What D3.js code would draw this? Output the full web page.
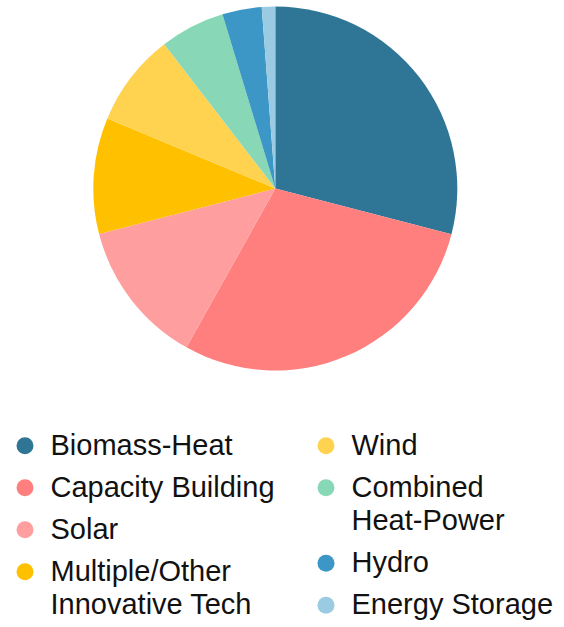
<!DOCTYPE html>
<html>
<head>
<meta charset="utf-8">
<script src="https://cdn.jsdelivr.net/npm/d3@7"></script>
<style>
  html, body { margin: 0; padding: 0; background: #fff; }
  svg { display: block; }
  text { font-family: "Liberation Sans", Arial, sans-serif; fill: #111; }
</style>
</head>
<body>
<div id="chart"></div>
<script>
const categories = ["Biomass-Heat", "Capacity Building", "Solar", "Multiple/Other Innovative Tech", "Wind", "Combined Heat-Power", "Hydro", "Energy Storage"];
const values = [29.04, 29.08, 12.86, 10.32, 8.26, 5.76, 3.50, 1.19];
const colors = ["#2F7596", "#FF7F7E", "#FF9E9E", "#FFC000", "#FFD24F", "#88D8B8", "#3C97C6", "#9BCBE3"];
const legendLines = [["Biomass-Heat"], ["Capacity Building"], ["Solar"], ["Multiple/Other", "Innovative Tech"], ["Wind"], ["Combined", "Heat-Power"], ["Hydro"], ["Energy Storage"]];
const legendColumn = [0, 0, 0, 0, 1, 1, 1, 1];

const W = 564, H = 627;
const cx = 275.3, cy = 188.5, R = 182;

const svg = d3.select("#chart").append("svg").attr("width", W).attr("height", H);

const data = categories.map((c, i) => ({ name: c, value: values[i], color: colors[i], lines: legendLines[i], col: legendColumn[i] }));

const pie = d3.pie().value(d => d.value).sort(null);
const arc = d3.arc().innerRadius(0).outerRadius(R);

svg.append("g").attr("transform", `translate(${cx},${cy})`)
  .selectAll("path").data(pie(data)).join("path")
  .attr("d", arc).attr("fill", d => d.data.color);

// legend
const colX = [25, 326];
const textDX = 25.5;
const startY = 445.7, itemStep = 42, lineStep = 33.5, fontSize = 29;
const colY = [startY, startY];
data.forEach(d => {
  const y = colY[d.col];
  const g = svg.append("g").attr("transform", `translate(${colX[d.col]},${y})`);
  g.append("circle").attr("r", 8.5).attr("fill", d.color);
  const t = g.append("text").attr("x", textDX).attr("y", 9).attr("font-size", fontSize);
  d.lines.forEach((ln, k) => {
    t.append("tspan").attr("x", textDX).attr("y", 9 + k * lineStep).text(ln);
  });
  colY[d.col] += itemStep + (d.lines.length - 1) * lineStep;
});
</script>
</body>
</html>
